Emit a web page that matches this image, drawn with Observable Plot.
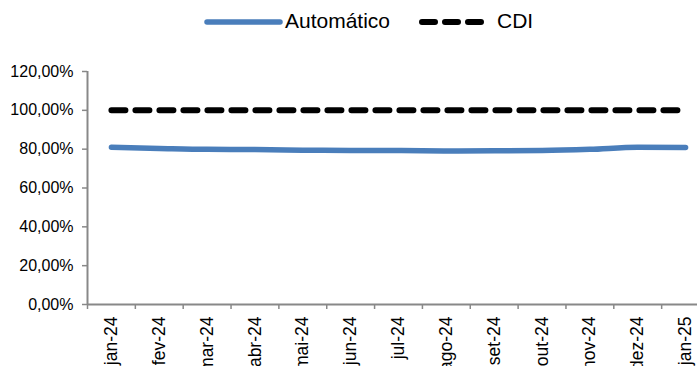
<!DOCTYPE html>
<html>
<head>
<meta charset="utf-8">
<script src="https://cdn.jsdelivr.net/npm/d3@7"></script>
<script src="https://cdn.jsdelivr.net/npm/@observablehq/plot@0.6"></script>
<style>
  body { margin: 0; background: #fff; font-family: "Liberation Sans", Arial, sans-serif; }
  #wrap { position: relative; width: 697px; height: 366px; overflow: hidden; }
  #legend { position: absolute; top: 0; left: 0; width: 697px; height: 42px; pointer-events: none; }
  .sw { position: absolute; top: 17px; display: block; }
  .lab { position: absolute; top: 9px; font-size: 21px; line-height: 24px; color: #000; white-space: nowrap; }
</style>
</head>
<body>
<div id="wrap">
  <div id="legend">
    <svg class="sw" style="left:204px" width="80" height="10"><line x1="3" y1="5" x2="76" y2="5" stroke="#4a7ebb" stroke-width="5.5" stroke-linecap="round"/></svg>
    <div class="lab" style="left:285px">Automático</div>
    <svg class="sw" style="left:419px" width="70" height="10"><line x1="3" y1="5" x2="62" y2="5" stroke="#000" stroke-width="6" stroke-linecap="round" stroke-dasharray="13,10"/></svg>
    <div class="lab" style="left:497px">CDI</div>
  </div>
  <div id="chart"></div>
</div>
<script>
const months = ["jan-24","fev-24","mar-24","abr-24","mai-24","jun-24","jul-24","ago-24","set-24","out-24","nov-24","dez-24","jan-25"];
const automatico = [0.810, 0.804, 0.799, 0.798, 0.795, 0.793, 0.793, 0.791, 0.792, 0.793, 0.799, 0.810, 0.809];
const cdi = [1,1,1,1,1,1,1,1,1,1,1,1,1];
const yTicks = [0, 0.2, 0.4, 0.6, 0.8, 1.0, 1.2];

const dataA = months.map((m, i) => ({i: i + 0.5, m, v: automatico[i]}));
const dataC = months.map((m, i) => ({i: i + 0.5, m, v: cdi[i]}));
const boundaries = d3.range(0, months.length + 1);
const fmtPct = d => (d * 100).toFixed(2).replace(".", ",") + "%";

const chart = Plot.plot({
  width: 697,
  height: 366,
  marginTop: 71, marginBottom: 62, marginLeft: 87, marginRight: 0,
  style: {fontFamily: "Liberation Sans, Arial, sans-serif", fontSize: "16px", color: "#000", background: "transparent", overflow: "visible"},
  x: {type: "linear", domain: [0, months.length], range: [87, 709], label: null},
  y: {domain: [0, 1.2], range: [304, 71], label: null},
  marks: [
    Plot.axisY(yTicks, {tickSize: 5, tickPadding: 9, tickFormat: fmtPct, fontSize: 16, stroke: "#888", strokeWidth: 1.5, anchor: "left", label: null}),
    Plot.axisX(boundaries, {tickSize: 5, tickFormat: () => "", stroke: "#888", strokeWidth: 1.5, anchor: "bottom", label: null}),
    Plot.axisX(dataA.map(d => d.i), {tickSize: 0, tickPadding: 12, tickRotate: -90, tickFormat: d => months[Math.floor(d)], fontSize: 17.5, anchor: "bottom", label: null}),
    Plot.ruleX([0], {stroke: "#888", strokeWidth: 2}),
    Plot.ruleY([0], {stroke: "#888", strokeWidth: 2}),
    Plot.line(dataC, {x: "i", y: "v", stroke: "#000", strokeWidth: 6, strokeDasharray: "14,10", strokeLinecap: "round"}),
    Plot.line(dataA, {x: "i", y: "v", stroke: "#4a7ebb", strokeWidth: 5.5, strokeLinecap: "round", curve: "monotone-x"})
  ]
});
document.getElementById("chart").appendChild(chart);
</script>
</body>
</html>
